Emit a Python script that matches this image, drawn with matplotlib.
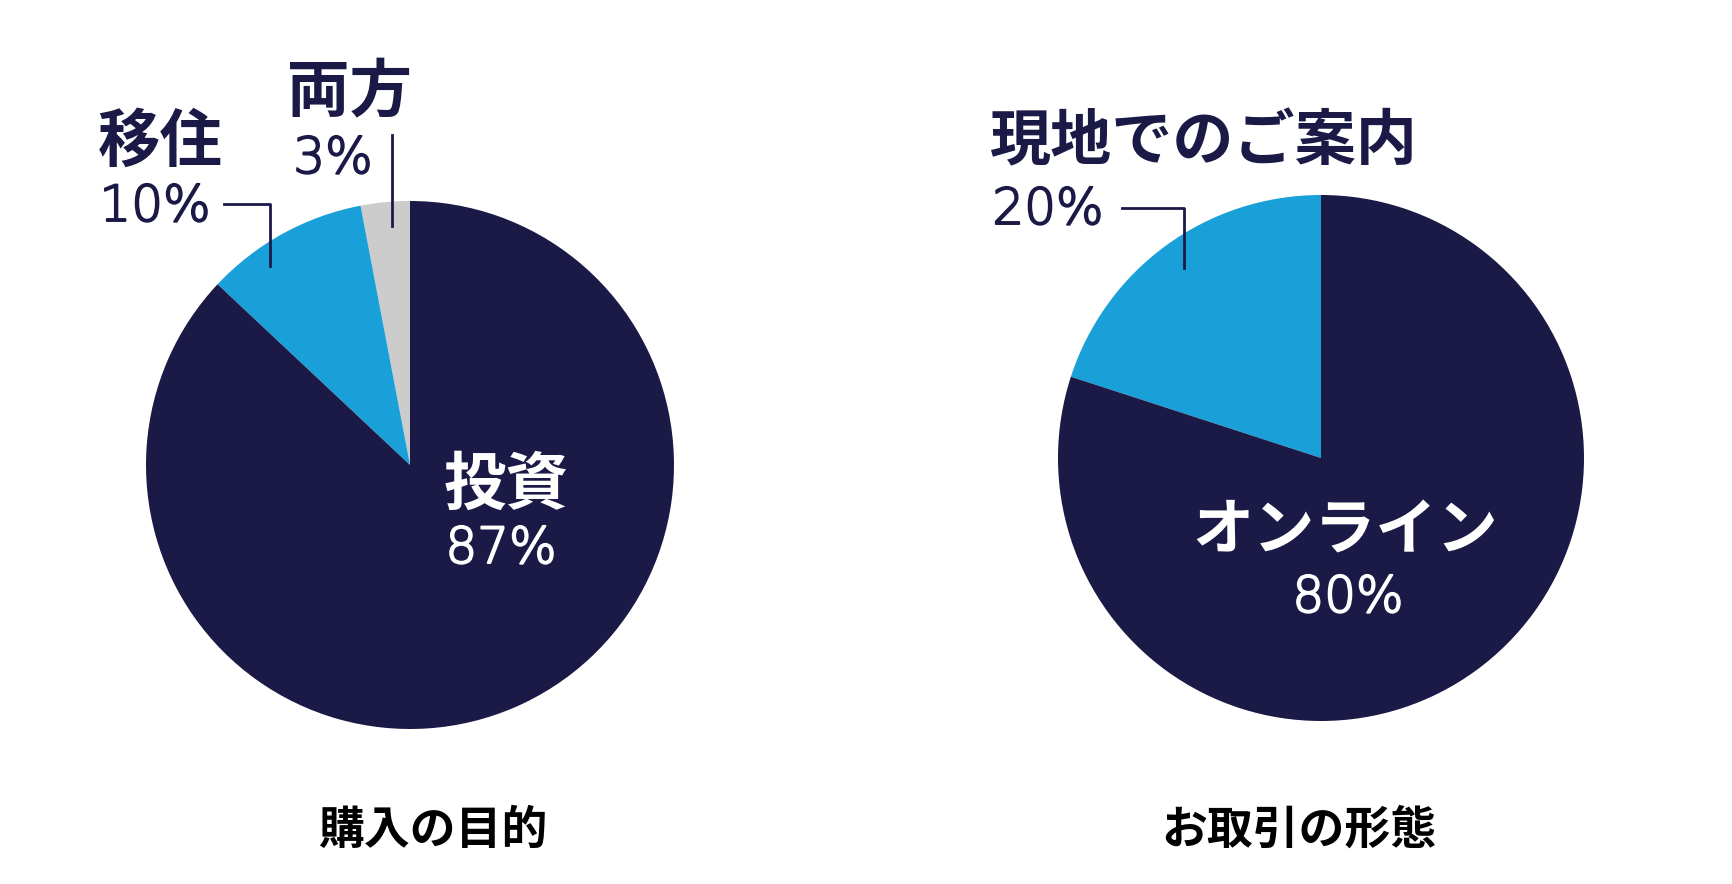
import matplotlib.pyplot as plt
import matplotlib.patheffects as pe
from matplotlib.lines import Line2D

plt.rcParams['font.family'] = ['Noto Sans CJK JP', 'DejaVu Sans']

# 購入の目的
purpose_labels = ['両方', '移住', '投資']
purpose_values = [3, 10, 87]
purpose_colors = ['#cccccc', '#1aa0d8', '#1b1a46']

# お取引の形態
deal_labels = ['現地でのご案内', 'オンライン']
deal_values = [20, 80]
deal_colors = ['#1aa0d8', '#1b1a46']

titles = ['購入の目的', 'お取引の形態']

W, H = 1732, 884
NAVY = '#1b1a46'

fig = plt.figure(figsize=(W / 100, H / 100), dpi=100)


def pie_axes(cx, cy, r):
    # place a square axes in pixel coords (y from top)
    return fig.add_axes([(cx - r) / W, (H - cy - r) / H, 2 * r / W, 2 * r / H])


def finish(ax):
    ax.set_xlim(-1, 1)
    ax.set_ylim(-1, 1)
    ax.set_aspect('equal')
    ax.axis('off')


def ftext(x, y, s, **kw):
    return fig.text(x / W, 1 - y / H, s, ha='center', va='center', **kw)


def pct(x, y, v, color):
    # thin font thickened a little with a stroke
    ftext(x, y, f'{v}%', fontsize=36, family='DejaVu Sans', fontweight='light',
          color=color, path_effects=[pe.withStroke(linewidth=1.4, foreground=color)])


def fline(xs, ys):
    fig.add_artist(Line2D([x / W for x in xs], [1 - y / H for y in ys],
                          color=NAVY, lw=2, transform=fig.transFigure))


ax1 = pie_axes(410, 465, 264)
ax1.pie(purpose_values, colors=purpose_colors, startangle=90, counterclock=True,
        radius=1, wedgeprops=dict(linewidth=0))
finish(ax1)

ax2 = pie_axes(1321, 458, 263)
ax2.pie(deal_values, colors=deal_colors, startangle=90, counterclock=True,
        radius=1, wedgeprops=dict(linewidth=0))
finish(ax2)

# left chart labels
ftext(350, 93, purpose_labels[0], fontsize=45, fontweight='bold', color=NAVY)
pct(333, 159, purpose_values[0], NAVY)
ftext(160, 142, purpose_labels[1], fontsize=45, fontweight='bold', color=NAVY)
pct(155, 207, purpose_values[1], NAVY)
ftext(506, 485, purpose_labels[2], fontsize=45, fontweight='bold', color='white')
pct(501, 549, purpose_values[2], 'white')

fline([392, 392], [135, 226])
fline([224, 270, 270], [204, 204, 266])

# right chart labels
ftext(1204, 143, deal_labels[0], fontsize=44, fontweight='bold', color=NAVY)
pct(1048, 210, deal_values[0], NAVY)
ftext(1345, 532, deal_labels[1], fontsize=44, fontweight='bold', color='white')
pct(1348, 598, deal_values[1], 'white')

fline([1122, 1184, 1184], [208, 208, 268])

# titles
ftext(433, 831, titles[0], fontsize=33, fontweight='bold', color='black')
ftext(1299, 831, titles[1], fontsize=33, fontweight='bold', color='black')

fig.savefig('out.png', dpi=100, facecolor='white')
